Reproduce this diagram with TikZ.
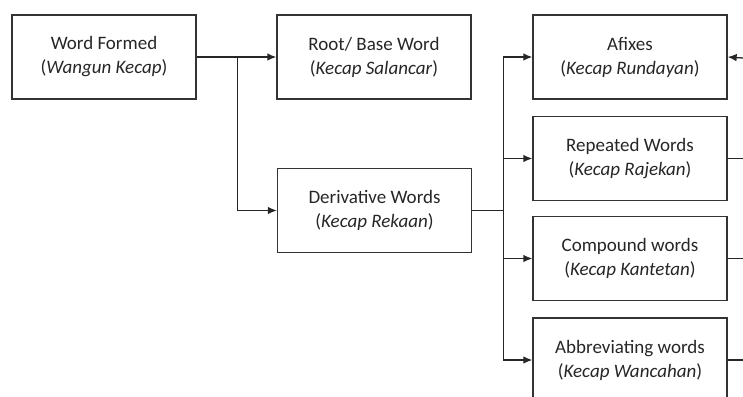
\documentclass[tikz,border=0pt]{standalone}
\usepackage{fontspec}
\setmainfont{Carlito}
\usetikzlibrary{arrows.meta}
\begin{document}
\begin{tikzpicture}[x=0.5pt,y=-0.5pt,
  box/.style={draw=black!80,line width=0.65pt,minimum width=97pt,minimum height=42pt,inner sep=0pt,align=center,font=\fontsize{9.5}{12}\selectfont,text=black!85},
  conn/.style={draw=black!85,line width=0.65pt},
  arr/.style={conn,-{Latex[length=4.5pt,width=3.8pt]}}]
\clip (0,0) rectangle (743,396);
\useasboundingbox (0,0) rectangle (743,396);
\node[box,minimum width=92pt] (wf) at (104,57) {Word Formed\\(\textit{Wangun Kecap})};
\node[box] (root) at (374,57) {Root/ Base Word\\(\textit{Kecap Salancar})};
\node[box] (der) at (374.5,210.5) {Derivative Words\\(\textit{Kecap Rekaan})};
\node[box] (afx) at (630,57) {Afixes\\(\textit{Kecap Rundayan})};
\node[box] (rep) at (630,158.5) {Repeated Words\\(\textit{Kecap Rajekan})};
\node[box] (cmp) at (630,258.5) {Compound words\\(\textit{Kecap Kantetan})};
\node[box] (abb) at (630,360) {Abbreviating words\\(\textit{Kecap Wancahan})};
\coordinate (e1) at (743,58);
\coordinate (e2) at (743,158.5);
\coordinate (e3) at (743,258.5);
\coordinate (e4) at (743,360);
\draw[arr] (wf.east) -- (root.west);
\draw[arr] (wf.east) ++(41,0) |- (der.west);
\draw[conn] (der.east) -- ++(31,0);
\draw[arr] (der.east) ++(31,0) |- (afx.west);
\draw[arr] (der.east) ++(31,0) |- (rep.west);
\draw[arr] (der.east) ++(31,0) |- (cmp.west);
\draw[arr] (der.east) ++(31,0) |- (abb.west);
\draw[arr] (e1) -- (afx.east);
\draw[conn] (rep.east) -- (e2);
\draw[conn] (cmp.east) -- (e3);
\draw[conn] (abb.east) -- (e4);
\end{tikzpicture}
\end{document}
